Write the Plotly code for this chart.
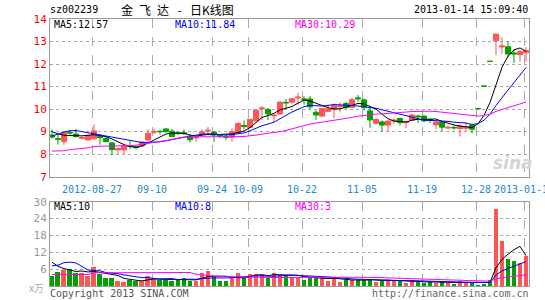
import plotly.graph_objects as go
import pandas as pd

# ---------------- data ----------------
dates = [
    "2012-08-16", "2012-08-17", "2012-08-20", "2012-08-21", "2012-08-22", "2012-08-23", "2012-08-24",
    "2012-08-27", "2012-08-28", "2012-08-29", "2012-08-30", "2012-08-31",
    "2012-09-03", "2012-09-04", "2012-09-05", "2012-09-06", "2012-09-07",
    "2012-09-10", "2012-09-11", "2012-09-12", "2012-09-13", "2012-09-14",
    "2012-09-17", "2012-09-18", "2012-09-19", "2012-09-20", "2012-09-21",
    "2012-09-24", "2012-09-25", "2012-09-26", "2012-09-27", "2012-09-28",
    "2012-10-08", "2012-10-09", "2012-10-10", "2012-10-11", "2012-10-12",
    "2012-10-15", "2012-10-16", "2012-10-17", "2012-10-18", "2012-10-19",
    "2012-10-22", "2012-10-23", "2012-10-24", "2012-10-25", "2012-10-26",
    "2012-10-29", "2012-10-30", "2012-10-31", "2012-11-01", "2012-11-02",
    "2012-11-05", "2012-11-06", "2012-11-07", "2012-11-08", "2012-11-09",
    "2012-11-12", "2012-11-13", "2012-11-14", "2012-11-15", "2012-11-16",
    "2012-11-19", "2012-11-20", "2012-11-21", "2012-11-22", "2012-11-23",
    "2012-11-26", "2012-11-27", "2012-11-28", "2012-11-29",
    "2012-12-28", "2012-12-31",
    "2013-01-04", "2013-01-07", "2013-01-08", "2013-01-09", "2013-01-10", "2013-01-11", "2013-01-14",
]

opens = [
    8.85, 8.69, 8.55, 8.97, 8.89, 8.70, 8.63, 8.68, 8.78, 8.70,
    8.50, 8.19, 8.19, 8.38, 8.35, 8.36, 8.63, 8.97, 9.02, 9.12,
    9.02, 8.95, 8.95, 8.80, 8.72, 8.89, 9.03, 8.98, 8.84, 8.78,
    8.75, 8.96, 9.27, 9.18, 9.48, 10.02, 9.98, 9.70, 9.78, 10.30,
    10.31, 10.49, 10.45, 10.45, 9.86, 9.69, 9.90, 9.98, 10.12, 10.25,
    10.08, 10.50, 10.41, 9.92, 9.37, 9.43, 9.29, 9.48, 9.58, 9.40,
    9.51, 9.69, 9.69, 9.54, 9.30, 9.43, 9.16, 9.19, 9.14, 9.15,
    9.29, 10.02, 11.02, 12.12, 13.03, 12.76, 12.77, 12.49, 12.42, 12.50,
]
highs = [
    9.10, 8.92, 8.97, 9.07, 9.12, 8.80, 8.87, 9.33, 8.87, 8.78,
    8.55, 8.30, 8.40, 8.58, 8.38, 8.56, 9.10, 9.13, 9.05, 9.15,
    9.12, 9.00, 9.10, 8.85, 8.80, 9.10, 9.20, 9.02, 8.90, 8.90,
    9.15, 9.42, 9.50, 9.56, 9.97, 10.13, 10.05, 9.80, 10.35, 10.45,
    10.50, 10.73, 10.58, 10.58, 9.95, 10.05, 10.20, 10.25, 10.30, 10.32,
    10.50, 10.62, 10.47, 10.15, 9.60, 9.50, 9.50, 9.58, 9.62, 9.50,
    9.78, 9.76, 9.72, 9.58, 9.45, 9.45, 9.28, 9.28, 9.32, 9.43,
    9.32, 10.02, 11.02, 12.12, 13.33, 13.18, 13.00, 12.65, 12.65, 12.75,
]
lows = [
    8.68, 8.42, 8.41, 8.87, 8.74, 8.66, 8.62, 8.66, 8.42, 8.52,
    7.95, 8.00, 8.01, 8.22, 8.20, 8.32, 8.60, 8.88, 8.87, 8.95,
    8.75, 8.85, 8.85, 8.52, 8.55, 8.85, 8.90, 8.55, 8.72, 8.62,
    8.55, 8.94, 9.10, 9.15, 9.45, 9.52, 9.52, 9.42, 9.74, 10.00,
    10.20, 10.20, 10.20, 9.98, 9.52, 9.65, 9.85, 9.60, 9.85, 10.00,
    10.05, 10.32, 9.95, 9.17, 9.32, 9.00, 9.00, 9.33, 9.28, 9.15,
    9.48, 9.38, 9.42, 9.38, 9.10, 9.03, 9.10, 9.08, 8.78, 9.00,
    8.93, 10.02, 11.02, 12.12, 12.40, 12.45, 12.30, 12.05, 12.10, 12.10,
]
closes = [
    8.76, 8.66, 8.95, 8.94, 8.78, 8.74, 8.83, 9.03, 8.74, 8.56,
    8.20, 8.25, 8.37, 8.35, 8.30, 8.54, 8.92, 9.00, 9.00, 9.00,
    8.78, 8.92, 8.92, 8.64, 8.75, 8.99, 9.06, 8.86, 8.80, 8.75,
    9.00, 9.36, 9.23, 9.55, 9.95, 10.05, 9.79, 9.73, 10.31, 10.28,
    10.46, 10.53, 10.43, 10.10, 9.74, 10.03, 10.01, 10.16, 10.14, 10.08,
    10.42, 10.46, 10.06, 9.52, 9.54, 9.29, 9.47, 9.51, 9.40, 9.44,
    9.74, 9.66, 9.48, 9.50, 9.43, 9.20, 9.19, 9.17, 9.25, 9.20,
    9.11, 10.02, 11.02, 12.12, 13.33, 12.80, 12.45, 12.45, 12.55, 12.60,
]
# volume, unit: 10k lots (x万)
volumes = [
    3.8, 5.2, 5.8, 6.2, 4.9, 4.6, 3.5, 6.7, 4.4, 2.8,
    3.1, 1.8, 1.4, 2.2, 1.8, 2.0, 3.8, 2.8, 2.2, 2.2,
    2.0, 2.2, 2.9, 2.0, 1.8, 4.7, 5.5, 3.5, 1.8, 2.0,
    2.9, 4.7, 2.8, 4.4, 4.4, 3.9, 2.8, 4.7, 4.0, 3.8,
    3.2, 3.4, 2.2, 2.9, 2.9, 3.2, 2.0, 2.9, 1.4, 2.2,
    2.2, 2.2, 2.0, 2.6, 1.4, 1.8, 2.4, 1.8, 1.8, 1.1,
    2.0, 1.5, 1.1, 1.4, 1.1, 1.4, 1.1, 0.8, 1.8, 1.3,
    1.3, 0.6, 0.8, 2.4, 27.5, 16.0, 9.8, 8.9, 8.4, 10.8,
]

# moving-average values at the start of the chart, where the averaging window
# reaches back before the first visible day
ma5_head = [9.00, 8.90, 8.84, 8.82]
ma10_head = [8.80, 8.90, 8.98, 9.04, 9.05, 9.00, 8.95, 8.90, 8.85]
ma30_head = [8.14, 8.14, 8.15, 8.20, 8.22, 8.24, 8.28, 8.34, 8.36, 8.36,
             8.36, 8.36, 8.37, 8.38, 8.40, 8.44, 8.46, 8.50, 8.55, 8.60,
             8.66, 8.72, 8.76, 8.77, 8.77, 8.77, 8.77, 8.77, 8.77]
vma5_head = [8.5, 7.0, 6.2, 5.6]
vma10_head = [7.2, 7.4, 8.3, 8.5, 8.2, 6.9, 5.7, 5.5, 5.4]
vma30_head = [4.1, 4.1, 4.1, 4.1, 4.1, 4.1, 4.1, 4.7, 4.7, 4.7,
              4.7, 4.7, 4.7, 4.7, 4.7, 4.7, 4.8, 4.8, 4.8, 4.8,
              4.9, 4.9, 4.9, 4.8, 4.2, 3.9, 3.7, 3.5, 3.4]

tick_dates = ["2012-08-27", "2012-09-10", "2012-09-24", "2012-10-09", "2012-10-22",
              "2012-11-05", "2012-11-19", "2012-12-28", "2013-01-14"]
tick_labels = ["2012-08-27", "09-10", "09-24", "10-09", "10-22",
               "11-05", "11-19", "12-28", "2013-01-14"]

price_ticks = [7, 8, 9, 10, 11, 12, 13, 14]
vol_ticks = [6, 12, 18, 24, 30]

title_code = "sz002239"
title_name = "金\u2002飞\u2002达\u2002\u2009-\u2002\u2009日K线图"
timestamp = "2013-01-14 15:09:40"
price_ma_labels = ["MA5:12.57", "MA10:11.84", "MA30:10.29"]
vol_ma_labels = ["MA5:10", "MA10:8", "MA30:3"]

# ---------------- styles ----------------
RED = "#ff5555"
GREEN = "#00a000"
GRID = "#aaaaaa"
FRAME = "#999999"
XLAB = "#1e8bd3"
MONO = "DejaVu Sans Mono"
MA_COLORS = ["#000000", "#0000ff", "#ff00ff"]


def moving_avg(vals, n, head):
    s = pd.Series(vals, dtype=float).rolling(n).mean().tolist()
    return list(head) + s[n - 1:]


idx = list(range(len(dates)))
is_up = [c > o for o, c in zip(opens, closes)]

fig = go.Figure()

# candles: red when close > open, green otherwise (incl. one-price days)
for flag, col in [(True, RED), (False, GREEN)]:
    sel = [i for i in idx if is_up[i] == flag]
    style = dict(line=dict(color=col, width=1), fillcolor=col)
    fig.add_trace(go.Candlestick(
        x=sel,
        open=[opens[i] for i in sel], high=[highs[i] for i in sel],
        low=[lows[i] for i in sel], close=[closes[i] for i in sel],
        increasing=style, decreasing=style, whiskerwidth=0,
        xaxis="x", yaxis="y", hoverinfo="skip", showlegend=False))

price_mas = [moving_avg(closes, 5, ma5_head), moving_avg(closes, 10, ma10_head),
             moving_avg(closes, 30, ma30_head)]
for ma, col in zip(price_mas, MA_COLORS):
    fig.add_trace(go.Scatter(x=idx, y=ma, mode="lines", line=dict(color=col, width=1),
                             xaxis="x", yaxis="y", hoverinfo="skip", showlegend=False))

fig.add_trace(go.Bar(x=idx, y=volumes, width=0.83,
                     marker=dict(color=[RED if u else GREEN for u in is_up], line=dict(width=0)),
                     xaxis="x2", yaxis="y2", hoverinfo="skip", showlegend=False))

vol_mas = [moving_avg(volumes, 5, vma5_head), moving_avg(volumes, 10, vma10_head),
           moving_avg(volumes, 30, vma30_head)]
for ma, col in zip(vol_mas, MA_COLORS):
    fig.add_trace(go.Scatter(x=idx, y=ma, mode="lines", line=dict(color=col, width=1),
                             xaxis="x2", yaxis="y2", hoverinfo="skip", showlegend=False))

# ---------------- layout ----------------
W, H = 545, 300
L, R, T, B = 50, 529, 19, 286          # plot area in pixels
MAIN_BOTTOM, VOL_TOP = 176.7, 201.7


def px(x):
    return (x - L) / (R - L)


def py(y):
    return (B - y) / (B - T)


tick_pos = [dates.index(d) - 0.33 for d in tick_dates]
xr = [-0.33, 79.5]

common_x = dict(range=xr, tickvals=tick_pos, showgrid=True, gridcolor=GRID, griddash="dash",
                gridwidth=1, showline=True, mirror=True, linecolor=FRAME, linewidth=1,
                ticks="", zeroline=False, fixedrange=True, tickangle=0, automargin=False)
common_y = dict(showgrid=True, gridcolor=GRID, griddash="dot", gridwidth=1,
                showline=True, mirror=True, linecolor=FRAME, linewidth=1, ticks="",
                zeroline=False, fixedrange=True, automargin=False)

fig.update_layout(
    width=W, height=H,
    margin=dict(l=L, r=W - R, t=T, b=H - B, pad=0, autoexpand=False),
    paper_bgcolor="white", plot_bgcolor="white",
    showlegend=False, boxgap=0.15, boxgroupgap=0, bargap=0,
    xaxis=dict(domain=[0, 1], anchor="y", ticktext=tick_labels, ticklabelstandoff=3,
               tickfont=dict(family=MONO, size=10, color=XLAB),
               rangeslider=dict(visible=False), ticklabeloverflow="allow", **common_x),
    yaxis=dict(domain=[py(MAIN_BOTTOM), 1], anchor="x", range=[7, 14], tickvals=price_ticks,
               tickfont=dict(family=MONO, size=11, color="#ff0000"), **common_y),
    xaxis2=dict(domain=[0, 1], anchor="y2", showticklabels=False, **common_x),
    yaxis2=dict(domain=[0, py(VOL_TOP)], anchor="x2", range=[0, 30], tickvals=vol_ticks,
                tickfont=dict(family=MONO, size=11, color="#999999"), **common_y),
)


def note(text, x, y, color="#000000", xanchor="left", size=10, family=MONO):
    fig.add_annotation(text=text, x=px(x), y=py(y), xref="paper", yref="paper",
                       xanchor=xanchor, yanchor="middle", showarrow=False,
                       font=dict(family=family, size=size, color=color), borderpad=0)


note(title_code, 49, 10, size=10)
note(title_name, 120, 10, size=12, family="Noto Sans CJK SC")
note(timestamp, 529, 10, xanchor="right", size=10)

for text, x, col in zip(price_ma_labels, [53, 174, 294], MA_COLORS):
    note(text, x, 24.5, color=col)
for text, x, col in zip(vol_ma_labels, [53, 174, 294], MA_COLORS):
    note(text, x, 206.5, color=col)

note("x万", 45, 287, color="#aaaaaa", xanchor="right", size=10, family="Noto Sans CJK SC")
note("Copyright 2013 SINA.COM", 49, 293.5, color="#555555")
note("http://finance.sina.com.cn", 530, 293.5, color="#666666", xanchor="right")
note("<b><i>sina</i></b>", 513, 163, color="#d4d4d4", xanchor="center", size=17, family="DejaVu Sans")

fig.write_html("out.html")
